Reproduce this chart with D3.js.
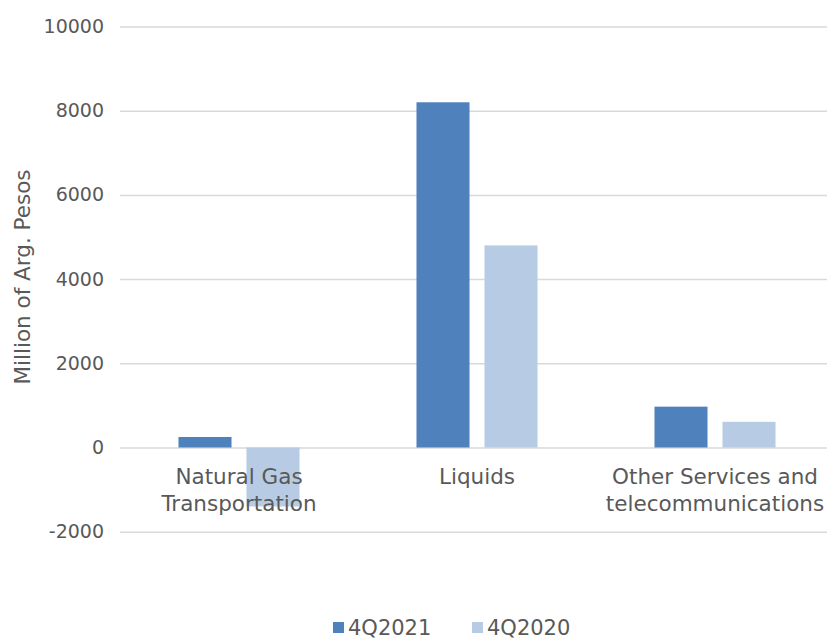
<!DOCTYPE html>
<html>
<head>
<meta charset="utf-8">
<script src="https://cdn.jsdelivr.net/npm/d3@7"></script>
<style>
  body { margin: 0; background: #fff; }
  svg { display: block; font-family: "DejaVu Sans", Verdana, sans-serif; }
</style>
</head>
<body>
<svg id="chart" width="827" height="640"></svg>
<script>
"use strict";

// chart data
const categories = [["Natural Gas", "Transportation"], ["Liquids"], ["Other Services and", "telecommunications"]];
const series = ["4Q2021", "4Q2020"];
const values2021 = [250, 8200, 970];
const values2020 = [-1400, 4800, 610];
const tickValues = [-2000, 0, 2000, 4000, 6000, 8000, 10000];

const colors = ["#4f81bd", "#b7cce4"];
const textColor = "#595959";

const svg = d3.select("#chart");

const x0 = d3.scaleBand()
    .domain(d3.range(categories.length))
    .range([120, 834]);

const x1 = d3.scaleBand()
    .domain(series)
    .range([0, x0.bandwidth()])
    .paddingInner(0.22)
    .paddingOuter(0.86);

const y = d3.scaleLinear()
    .domain([-2000, 10000])
    .range([531.7, 26.5]);

// gridlines
const grid = svg.append("g")
    .attr("transform", "translate(120,0)")
    .call(d3.axisRight(y).tickValues(tickValues).tickFormat("").tickSize(714));
grid.select(".domain").remove();
grid.selectAll("line").attr("stroke", "#d9d9d9").attr("stroke-width", 1.5);

// y axis labels (plain hyphen for negatives, like the original)
const yAxis = svg.append("g")
    .attr("transform", "translate(104,0)")
    .call(d3.axisLeft(y).tickValues(tickValues).tickSize(0).tickPadding(0).tickFormat(d => String(d)));
yAxis.select(".domain").remove();
yAxis.selectAll("text")
    .attr("fill", textColor)
    .style("font-size", "19px")
    .style("font-family", "'DejaVu Sans', Verdana, sans-serif");

// bars
const rows = categories.map((c, i) => [values2021[i], values2020[i]]);
const groups = svg.append("g").selectAll("g")
    .data(rows)
    .join("g")
    .attr("transform", (d, i) => "translate(" + x0(i) + ",0)");

groups.selectAll("rect")
    .data(d => d.map((v, j) => ({key: series[j], value: v, idx: j})))
    .join("rect")
    .attr("x", d => x1(d.key))
    .attr("width", x1.bandwidth())
    .attr("y", d => y(Math.max(0, d.value)))
    .attr("height", d => Math.abs(y(d.value) - y(0)))
    .attr("fill", d => colors[d.idx]);

// category labels
const catLabels = svg.append("g").selectAll("text")
    .data(categories)
    .join("text")
    .attr("x", (d, i) => x0(i) + x0.bandwidth() / 2)
    .attr("y", 484)
    .attr("text-anchor", "middle")
    .attr("fill", textColor)
    .style("font-size", "21.5px");

catLabels.selectAll("tspan")
    .data(d => d)
    .join("tspan")
    .attr("x", function() { return d3.select(this.parentNode).attr("x"); })
    .attr("dy", (d, i) => i === 0 ? 0 : 27)
    .text(d => d);

// y axis title
svg.append("text")
    .attr("transform", "translate(30,277) rotate(-90)")
    .attr("text-anchor", "middle")
    .attr("fill", textColor)
    .style("font-size", "21.5px")
    .text("Million of Arg. Pesos");

// legend
const legendX = [333, 472];
const legend = svg.append("g").selectAll("g")
    .data(series)
    .join("g")
    .attr("transform", (d, i) => "translate(" + legendX[i] + ",622)");

legend.append("rect")
    .attr("width", 11)
    .attr("height", 11)
    .attr("fill", (d, i) => colors[i]);

legend.append("text")
    .attr("x", 15)
    .attr("y", 13)
    .attr("fill", textColor)
    .style("font-size", "21px")
    .text(d => d);
</script>
</body>
</html>
